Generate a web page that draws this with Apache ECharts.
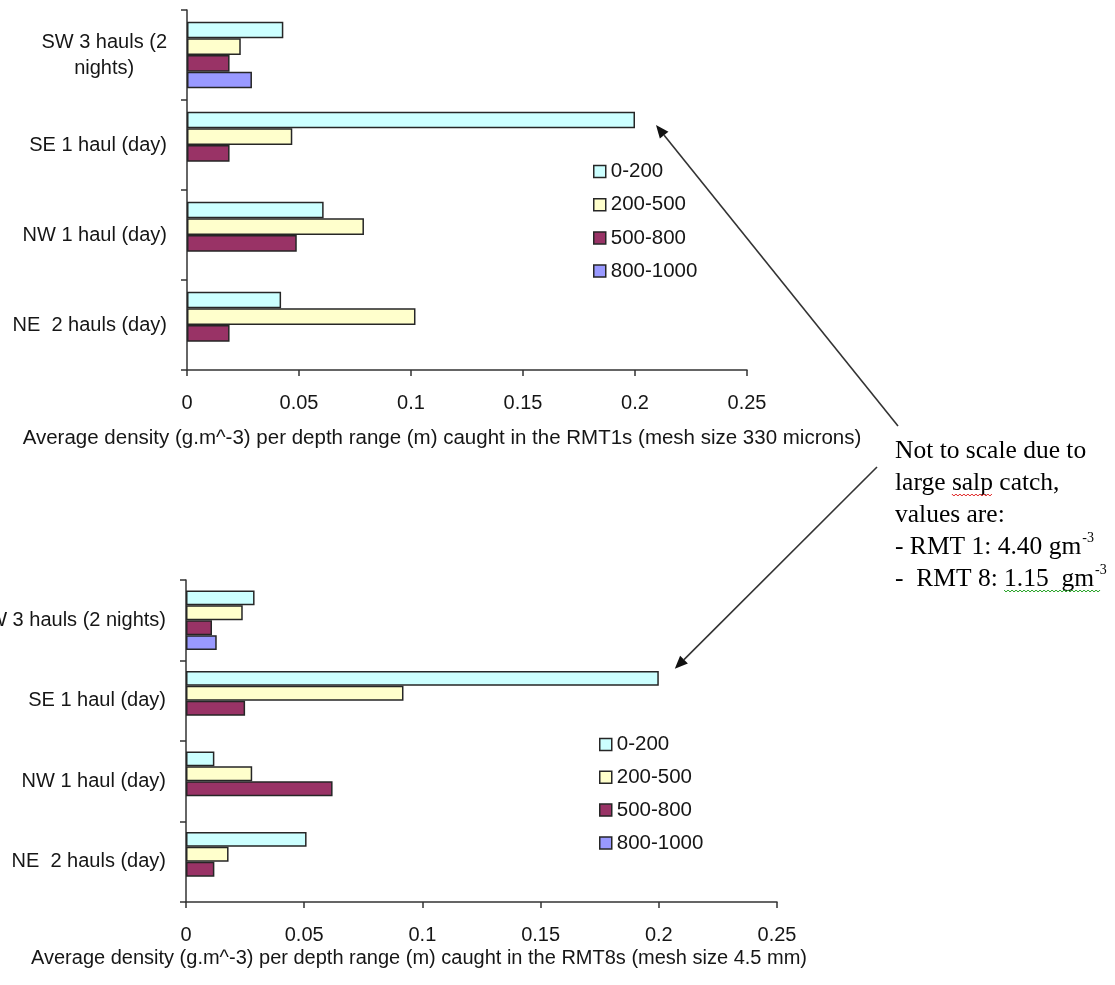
<!DOCTYPE html>
<html>
<head>
<meta charset="utf-8">
<script src="https://cdn.jsdelivr.net/npm/echarts@6/dist/echarts.min.js"></script>
<style>
  html, body { margin: 0; padding: 0; background: #ffffff; }
  #chart { width: 1115px; height: 985px; }
</style>
</head>
<body>
<div id="chart"></div>
<script>
// Depth ranges (m) and their fills
const seriesNames = ['0-200', '200-500', '500-800', '800-1000'];
const seriesColors = ['#CCFFFF', '#FFFFCC', '#993366', '#9999FF'];

// Sampling areas, top to bottom
const categoriesRMT1 = ['SW 3 hauls (2\nnights)', 'SE 1 haul (day)', 'NW 1 haul (day)', 'NE  2 hauls (day)'];
const categoriesRMT8 = ['SW 3 hauls (2 nights)', 'SE 1 haul (day)', 'NW 1 haul (day)', 'NE  2 hauls (day)'];

// RMT1 average density (g.m^-3); the SE 0-200 bar is drawn truncated at 0.2
const rmt1_0_200    = [0.043, 0.2,   0.061, 0.042];
const rmt1_200_500  = [0.024, 0.047, 0.079, 0.102];
const rmt1_500_800  = [0.019, 0.019, 0.049, 0.019];
const rmt1_800_1000 = [0.029, null,  null,  null];

// RMT8 average density (g.m^-3); the SE 0-200 bar is drawn truncated at 0.2
const rmt8_0_200    = [0.029, 0.2,   0.012, 0.051];
const rmt8_200_500  = [0.024, 0.092, 0.028, 0.018];
const rmt8_500_800  = [0.011, 0.025, 0.062, 0.012];
const rmt8_800_1000 = [0.013, null,  null,  null];

// Value axis range
const xMin = 0, xMax = 0.25, xStep = 0.05;

// True salp-catch values quoted in the note
const salpRMT1 = '4.40';
const salpRMT8 = '1.15';

const SANS = '"Liberation Sans", Arial, sans-serif';
const SERIF = '"Liberation Serif", "Times New Roman", serif';
const INK = '#161616';
const LINE = '#333333';
const LABEL_SIZE = 20;

const chart = echarts.init(document.getElementById('chart'), null, { renderer: 'canvas' });

function valueAxis(gridIndex) {
  return {
    type: 'value', gridIndex, min: xMin, max: xMax, interval: xStep,
    axisLine: { show: true, lineStyle: { color: LINE, width: 1.5 } },
    axisTick: { show: true, length: 6, lineStyle: { color: LINE, width: 1.5 } },
    splitLine: { show: false },
    axisLabel: { color: INK, fontFamily: SANS, fontSize: LABEL_SIZE, margin: 23 }
  };
}

function categoryAxis(gridIndex, data) {
  return {
    type: 'category', gridIndex, data, inverse: true,
    axisLine: { show: true, lineStyle: { color: LINE, width: 1.5 } },
    axisTick: { show: true, length: 6, lineStyle: { color: LINE, width: 1.5 } },
    splitLine: { show: false },
    axisLabel: {
      interval: 0, margin: 20,
      formatter: v => v.split('\n').map((l, i) => '{' + (i === 0 ? 'a' : 'b') + '|' + l + '}').join('\n'),
      rich: {
        a: { fontFamily: SANS, fontSize: LABEL_SIZE, color: INK, lineHeight: 26, align: 'right' },
        b: { fontFamily: SANS, fontSize: LABEL_SIZE, color: INK, lineHeight: 26, align: 'center' }
      }
    }
  };
}

function barSeries(name, color, data, axisIndex) {
  return {
    type: 'bar', name, data,
    xAxisIndex: axisIndex, yAxisIndex: axisIndex,
    barGap: '0%', barCategoryGap: '26%',
    itemStyle: { color, borderColor: '#262626', borderWidth: 1.5 },
    emphasis: { disabled: true },
    animation: false
  };
}

function legend(left, top, gap) {
  return {
    orient: 'vertical', left, top, itemWidth: 12, itemHeight: 12, itemGap: gap,
    icon: 'rect', selectedMode: false, data: seriesNames,
    itemStyle: { borderColor: '#262626', borderWidth: 1.5 },
    textStyle: { fontFamily: SANS, fontSize: 20.5, color: INK, lineHeight: 20.5 }
  };
}

const rmt1 = [rmt1_0_200, rmt1_200_500, rmt1_500_800, rmt1_800_1000];
const rmt8 = [rmt8_0_200, rmt8_200_500, rmt8_500_800, rmt8_800_1000];

const option = {
  backgroundColor: '#ffffff',
  animation: false,
  grid: [
    { left: 187, top: 10, width: 560, height: 360, containLabel: false, outerBoundsMode: 'none' },
    { left: 186, top: 580, width: 591, height: 322, containLabel: false, outerBoundsMode: 'none' }
  ],
  xAxis: [valueAxis(0), valueAxis(1)],
  yAxis: [categoryAxis(0, categoriesRMT1), categoryAxis(1, categoriesRMT8)],
  legend: [legend(588, 156, 12.2), legend(594, 729, 11.8)],
  series: [
    ...seriesNames.map((n, i) => barSeries(n, seriesColors[i], rmt1[i], 0)),
    ...seriesNames.map((n, i) => barSeries(n, seriesColors[i], rmt8[i], 1))
  ]
};
chart.setOption(option);

// ---- text note, axis titles and arrows ----
const measureCtx = document.createElement('canvas').getContext('2d');
function textWidth(str, font) { measureCtx.font = font; return measureCtx.measureText(str).width; }

const noteSize = 25.5;
const noteFont = noteSize + 'px ' + SERIF;
const noteX = 895;
const noteBase = [459, 491, 523, 555, 587];
const noteLines = [
  'Not to scale due to',
  'large salp catch,',
  'values are:',
  '- RMT 1: ' + salpRMT1 + ' gm',
  '-  RMT 8: ' + salpRMT8 + '  gm'
];

function arrow(x1, y1, x2, y2) {
  const dx = x2 - x1, dy = y2 - y1, len = Math.hypot(dx, dy);
  const ux = dx / len, uy = dy / len, nx = -uy, ny = ux;
  const head = 13, half = 5.5;
  const bx = x2 - ux * head, by = y2 - uy * head;
  return [
    { type: 'line', shape: { x1, y1, x2: bx, y2: by }, style: { stroke: LINE, lineWidth: 1.6 }, silent: true },
    { type: 'polygon', shape: { points: [[x2, y2], [bx + nx * half, by + ny * half], [bx - nx * half, by - ny * half]] },
      style: { fill: '#111' }, silent: true }
  ];
}

function squiggle(x0, x1, y, color) {
  const pts = [];
  let up = true;
  for (let x = x0; x <= x1; x += 2) { pts.push([x, up ? y : y + 2]); up = !up; }
  return { type: 'polyline', shape: { points: pts }, style: { stroke: color, lineWidth: 1, fill: null }, silent: true };
}

const graphics = [];

// Axis titles
graphics.push({
  type: 'text', x: 442, y: 438,
  style: { text: 'Average density (g.m^-3) per depth range (m) caught in the RMT1s (mesh size 330 microns)',
           font: '20.5px ' + SANS, fill: INK, align: 'center', verticalAlign: 'middle' }, silent: true
});
graphics.push({
  type: 'text', x: 419, y: 958,
  style: { text: 'Average density (g.m^-3) per depth range (m) caught in the RMT8s (mesh size 4.5 mm)',
           font: '20px ' + SANS, fill: INK, align: 'center', verticalAlign: 'middle' }, silent: true
});

// Note lines
noteLines.forEach((t, i) => {
  graphics.push({
    type: 'text', x: noteX, y: noteBase[i] - 8,
    style: { text: t, font: noteFont, fill: '#000', align: 'left', verticalAlign: 'middle' }, silent: true
  });
});
// Superscript units
[3, 4].forEach(i => {
  const w = textWidth(noteLines[i], noteFont);
  graphics.push({
    type: 'text', x: noteX + w + 1, y: noteBase[i] - 17,
    style: { text: '-3', font: '14px ' + SERIF, fill: '#000', align: 'left', verticalAlign: 'middle' }, silent: true
  });
});
// Spell-check underlines
{
  const s0 = noteX + textWidth('large ', noteFont);
  const s1 = s0 + textWidth('salp', noteFont);
  graphics.push(squiggle(s0, s1, noteBase[1] + 3, '#e02020'));
  const g0 = noteX + textWidth('-  RMT 8: ', noteFont);
  const g1 = noteX + textWidth(noteLines[4], noteFont) + 8;
  graphics.push(squiggle(g0, g1, noteBase[4] + 3, '#20a020'));
}

// Arrows from the note to the truncated SE bars
const topEnd = chart.convertToPixel({ gridIndex: 0 }, [rmt1_0_200[1], 1]);
const botEnd = chart.convertToPixel({ gridIndex: 1 }, [rmt8_0_200[1], 1]);
graphics.push(...arrow(898, 426, topEnd[0] + 21, topEnd[1] - 20));
graphics.push(...arrow(877, 467, botEnd[0] + 16, botEnd[1] - 32));

chart.setOption({ graphic: graphics });
</script>
</body>
</html>
